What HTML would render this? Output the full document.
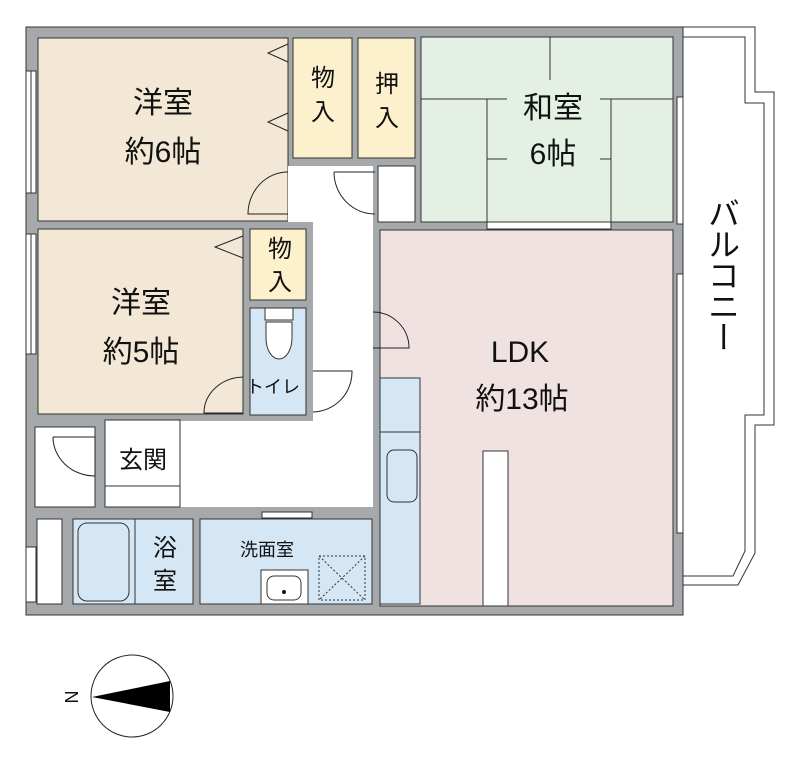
<!DOCTYPE html>
<html><head><meta charset="utf-8"><style>
html,body{margin:0;padding:0;background:#fff;width:800px;height:764px;overflow:hidden;position:relative}
svg{display:block}
text{font-family:"Liberation Sans","Noto Sans CJK JP",sans-serif;fill:#111}
.bal{position:absolute;left:704px;top:197px;writing-mode:vertical-rl;font-family:"Liberation Sans","Noto Sans CJK JP",sans-serif;font-size:32px;line-height:36px;color:#111;letter-spacing:-1px}
</style></head><body>
<svg width="800" height="764" viewBox="0 0 800 764" xmlns="http://www.w3.org/2000/svg">
<rect x="26" y="27" width="657" height="588" fill="#a6a9ac" stroke="#333" stroke-width="1"/>
<rect x="38" y="38" width="250" height="183" fill="#f3e8d6" stroke="#333"/>
<rect x="293" y="38" width="59" height="120" fill="#fdf0cc" stroke="#333"/>
<rect x="358" y="38" width="57" height="120" fill="#fdf0cc" stroke="#333"/>
<rect x="421" y="37" width="252" height="185" fill="#e4f0e3" stroke="#333"/>
<rect x="38" y="229" width="205" height="185" fill="#f3e8d6" stroke="#333"/>
<rect x="250" y="229" width="56" height="71" fill="#fdf0cc" stroke="#333"/>
<rect x="250" y="308" width="56" height="107" fill="#d5e7f4" stroke="#333"/>
<rect x="380" y="230" width="293" height="376" fill="#f1e2e2" stroke="#333"/>
<rect x="288" y="166" width="85" height="56" fill="#fff"/>
<rect x="378" y="166" width="37" height="56" fill="#fff" stroke="#333"/>
<rect x="313" y="222" width="60" height="285" fill="#fff"/>
<rect x="180" y="421" width="193" height="86" fill="#fff"/>
<rect x="105" y="420" width="75" height="87" fill="#fff" stroke="#333"/>
<line x1="105" y1="486" x2="180" y2="486" stroke="#333"/>
<rect x="35" y="427" width="60" height="80" fill="#fff" stroke="#333"/>
<rect x="37" y="519" width="25" height="85" fill="#fff" stroke="#333"/>
<rect x="73" y="519" width="120" height="85" fill="#d5e7f4" stroke="#333"/>
<line x1="135" y1="519" x2="135" y2="604" stroke="#333"/>
<rect x="78" y="523" width="51" height="78" rx="9" fill="#d5e7f4" stroke="#333"/>
<rect x="200" y="519" width="172" height="85" fill="#d5e7f4" stroke="#333"/>
<rect x="261" y="570" width="47" height="34" fill="#fff" stroke="#333"/>
<rect x="267" y="576" width="34" height="24" rx="7" fill="#fff" stroke="#333"/>
<circle cx="284" cy="592" r="2" fill="#111"/>
<rect x="319" y="556" width="46" height="44" fill="none" stroke="#333" stroke-dasharray="2,2"/>
<path d="M319 556 L365 600 M365 556 L319 600" stroke="#333" stroke-dasharray="2,2"/>
<rect x="262" y="512" width="50" height="6" fill="#fff" stroke="#333"/>
<rect x="380" y="378" width="40" height="226" fill="#d5e7f4" stroke="#333"/>
<line x1="380" y1="432" x2="420" y2="432" stroke="#333"/>
<rect x="387" y="450" width="30" height="52" rx="7" fill="#d5e7f4" stroke="#333"/>
<rect x="483" y="451" width="25" height="155" fill="#fff" stroke="#333"/>
<g stroke="#333" fill="none">
<path d="M550 37 V80 M421 99 H507 M600 99 H673 M487 99 V229 M611 99 V229 M487 159 H507 M600 159 H611"/>
</g>
<rect x="487" y="222" width="124" height="7" fill="#fff" stroke="#333"/>
<rect x="26" y="71" width="10" height="122" fill="#fff" stroke="#333"/>
<line x1="31" y1="71" x2="31" y2="193" stroke="#333"/>
<rect x="26" y="234" width="10" height="120" fill="#fff" stroke="#333"/>
<line x1="31" y1="234" x2="31" y2="354" stroke="#333"/>
<rect x="26" y="547" width="10" height="55" fill="#fff" stroke="#333"/>
<rect x="677" y="97" width="6" height="127" fill="#fff" stroke="#333"/>
<rect x="677" y="274" width="6" height="259" fill="#fff" stroke="#333"/>
<path d="M683 27 H755 V92 H774 V425 H755 V553 L738 585 H683" fill="none" stroke="#333"/>
<path d="M683 37 H745 V103 H764 V415 H745 V551 L733 576 H683" fill="none" stroke="#333"/>
<g stroke="#222" fill="none" stroke-width="1">
<path d="M288 172 A40 42 0 0 0 248 214 H288"/>
<path d="M334 172 H375 M334 172 A41 42 0 0 0 375 214"/>
<path d="M373 312 A36 36 0 0 1 409 348 H373"/>
<path d="M243 377 A40 36 0 0 0 204 413 H243"/>
<path d="M313 371 H352 A40 40 0 0 1 313 412"/>
<path d="M53 437 H95 V476 A42 39 0 0 1 53 437"/>
<path d="M288 44 L268 53 L288 62 M288 113 L268 122 L288 131 M243 236 L215 247 L243 258"/>
</g>
<rect x="265" y="308" width="28" height="12" fill="#fff" stroke="#333"/>
<path d="M266 322 h26 v16 a13 21 0 0 1 -26 0 z" fill="#fff" stroke="#333"/>
<g font-size="30">
<text x="163" y="113" text-anchor="middle">洋室</text>
<text x="163" y="162" text-anchor="middle">約6帖</text>
<text x="141" y="313" text-anchor="middle">洋室</text>
<text x="141" y="362" text-anchor="middle">約5帖</text>
<text x="553" y="118" text-anchor="middle">和室</text>
<text x="553" y="164" text-anchor="middle">6帖</text>
<text x="520" y="362" text-anchor="middle">LDK</text>
<text x="522" y="409" text-anchor="middle">約13帖</text>
</g>
<g font-size="24">
<text x="323" y="86" text-anchor="middle">物</text>
<text x="323" y="120" text-anchor="middle">入</text>
<text x="387" y="92" text-anchor="middle">押</text>
<text x="387" y="126" text-anchor="middle">入</text>
<text x="280" y="257" text-anchor="middle">物</text>
<text x="280" y="290" text-anchor="middle">入</text>
<text x="143" y="468" text-anchor="middle">玄関</text>
<text x="165" y="556" text-anchor="middle">浴</text>
<text x="165" y="589" text-anchor="middle">室</text>
</g>
<text x="273" y="393" font-size="18" text-anchor="middle">トイレ</text>
<text x="267" y="556" font-size="18" text-anchor="middle">洗面室</text>
<circle cx="132" cy="696" r="41" fill="#fff" stroke="#222"/>
<path d="M92 697 L170 681 L170 712 Z" fill="#000"/>
<text x="72" y="697" font-size="18" text-anchor="middle" dominant-baseline="central" transform="rotate(-90 72 697)">N</text>
</svg>
<div class="bal">バルコニー</div>
</body></html>
